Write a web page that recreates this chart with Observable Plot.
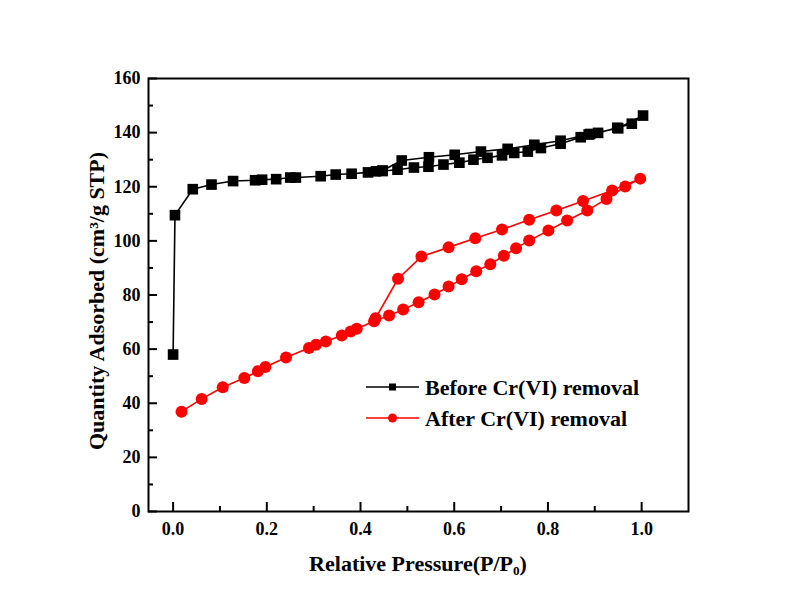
<!DOCTYPE html>
<html><head><meta charset="utf-8">
<script src="https://cdn.jsdelivr.net/npm/d3@7"></script>
<script src="https://cdn.jsdelivr.net/npm/@observablehq/plot@0.6"></script>
<style>
body{margin:0;background:#fff;}
#wrap{position:relative;width:786px;height:604px;font-family:"Liberation Serif","Times New Roman",serif;font-weight:bold;color:#000;}
.title{position:absolute;white-space:nowrap;font-size:22px;line-height:1;}
#ytitle{left:97px;top:301px;transform:translate(-50%,-50%) rotate(-90deg);}
#xtitle{left:418px;top:565px;transform:translate(-50%,-50%);}
#xtitle sub{font-size:0.6em;vertical-align:-0.25em;}
#legend{position:absolute;left:0;top:0;pointer-events:none;}
</style></head>
<body><div id="wrap"></div>
<script>
const seriesNames = ["Before Cr(VI) removal", "After Cr(VI) removal"];
const seriesColors = ["#000000", "#ff0000"];
const seriesSymbols = ["square", "circle"];

const beforeP = [0.000,0.004,0.042,0.082,0.128,0.175,0.190,0.220,0.250,0.262,0.315,0.347,0.381,0.416,0.433,0.447,0.479,0.514,0.545,0.577,0.611,0.641,0.671,0.702,0.728,0.757,0.785,0.827,0.870,0.887,0.907,0.948,0.979,1.003,0.950,0.890,0.827,0.771,0.714,0.657,0.601,0.546,0.488,0.447];
const beforeQ = [58.0,109.5,119.1,120.8,122.1,122.4,122.6,122.8,123.4,123.4,123.9,124.5,124.8,125.3,125.7,125.8,126.3,127.1,127.4,128.2,128.9,130.0,130.7,131.6,132.5,133.0,134.3,135.9,138.3,139.3,139.9,141.8,143.3,146.3,141.6,139.5,137.0,135.5,134.0,133.0,131.8,130.9,129.7,126.0];

const afterP = [0.018,0.061,0.106,0.152,0.181,0.197,0.241,0.290,0.305,0.326,0.360,0.379,0.392,0.429,0.461,0.491,0.524,0.558,0.588,0.616,0.647,0.677,0.706,0.732,0.760,0.801,0.841,0.884,0.925,0.965,0.997,0.937,0.875,0.818,0.760,0.702,0.645,0.588,0.530,0.480,0.432];
const afterQ = [36.9,41.6,45.9,49.3,51.8,53.4,56.9,60.4,61.6,62.8,65.0,66.5,67.5,70.3,72.4,74.6,77.3,80.2,83.1,85.8,88.8,91.4,94.5,97.3,100.1,103.8,107.5,111.2,115.5,120.1,123.0,118.6,114.7,111.2,107.8,104.2,101.0,97.6,94.2,86.0,71.4];

const xMajor = [0.0, 0.2, 0.4, 0.6, 0.8, 1.0];
const xMinor = [0.1, 0.3, 0.5, 0.7, 0.9];
const yMajor = [0, 20, 40, 60, 80, 100, 120, 140, 160];
const yMinor = [10, 30, 50, 70, 90, 110, 130, 150];
const xTitle = "Relative Pressure(P/P<sub>0</sub>)";
const yTitle = "Quantity Adsorbed (cm³/g STP)";

const before = beforeP.map((p, i) => ({p, q: beforeQ[i]}));
const after = afterP.map((p, i) => ({p, q: afterQ[i]}));

const W = 786, H = 604, mL = 148, mR = 98, mT = 78, mB = 93;
const innerW = W - mL - mR, innerH = H - mT - mB;

const chart = Plot.plot({
  width: W, height: H,
  marginLeft: mL, marginRight: mR, marginTop: mT, marginBottom: mB,
  style: "font-family:'Liberation Serif','Times New Roman',serif;font-size:18px;font-weight:bold;color:#000;background:#fff;overflow:visible;",
  x: {domain: [-0.0525, 1.1]},
  y: {domain: [0, 160]},
  marks: [
    Plot.axisX(xMajor, {tickSize: 0, tickPadding: 11, tickFormat: d => d.toFixed(1), label: null}),
    Plot.axisY(yMajor, {tickSize: 0, tickPadding: 8, label: null}),
    Plot.tickX(xMajor, {x: d => d, insetTop: innerH - 9, stroke: "#000", strokeWidth: 2}),
    Plot.tickX(xMinor, {x: d => d, insetTop: innerH - 5, stroke: "#000", strokeWidth: 2}),
    Plot.tickY(yMajor, {y: d => d, insetRight: innerW - 9, stroke: "#000", strokeWidth: 2}),
    Plot.tickY(yMinor, {y: d => d, insetRight: innerW - 5, stroke: "#000", strokeWidth: 2}),
    Plot.line(after, {x: "p", y: "q", stroke: seriesColors[1], strokeWidth: 1.6}),
    Plot.dot(after, {x: "p", y: "q", symbol: seriesSymbols[1], r: 6, fill: seriesColors[1], stroke: "none"}),
    Plot.line(before, {x: "p", y: "q", stroke: seriesColors[0], strokeWidth: 1.6}),
    Plot.dot(before, {x: "p", y: "q", symbol: seriesSymbols[0], r: 6, fill: seriesColors[0], stroke: "none"}),
    Plot.frame({stroke: "#000", strokeWidth: 2})
  ]
});

const wrap = document.getElementById("wrap");
wrap.appendChild(chart);

const yt = document.createElement("div");
yt.className = "title"; yt.id = "ytitle"; yt.textContent = yTitle;
wrap.appendChild(yt);
const xt = document.createElement("div");
xt.className = "title"; xt.id = "xtitle"; xt.innerHTML = xTitle;
wrap.appendChild(xt);

// legend
const ns = "http://www.w3.org/2000/svg";
const lg = document.createElementNS(ns, "svg");
lg.setAttribute("id", "legend");
lg.setAttribute("width", W); lg.setAttribute("height", H);
seriesNames.forEach((name, i) => {
  const cy = 387 + i * 31;
  const ln = document.createElementNS(ns, "line");
  ln.setAttribute("x1", 366); ln.setAttribute("x2", 419);
  ln.setAttribute("y1", cy); ln.setAttribute("y2", cy);
  ln.setAttribute("stroke", seriesColors[i]); ln.setAttribute("stroke-width", 1.6);
  lg.appendChild(ln);
  let mk;
  if (seriesSymbols[i] === "square") {
    mk = document.createElementNS(ns, "rect");
    mk.setAttribute("x", 392.5 - 3.5); mk.setAttribute("y", cy - 3.5);
    mk.setAttribute("width", 7); mk.setAttribute("height", 7);
  } else {
    mk = document.createElementNS(ns, "circle");
    mk.setAttribute("cx", 392.5); mk.setAttribute("cy", cy); mk.setAttribute("r", 4.5);
  }
  mk.setAttribute("fill", seriesColors[i]);
  lg.appendChild(mk);
  const tx = document.createElementNS(ns, "text");
  tx.setAttribute("x", 425); tx.setAttribute("y", cy);
  tx.setAttribute("dy", "0.35em");
  tx.setAttribute("font-family", "'Liberation Serif','Times New Roman',serif");
  tx.setAttribute("font-weight", "bold");
  tx.setAttribute("font-size", 22);
  tx.setAttribute("fill", "#000");
  tx.textContent = name;
  lg.appendChild(tx);
});
wrap.appendChild(lg);
</script>
</body></html>
